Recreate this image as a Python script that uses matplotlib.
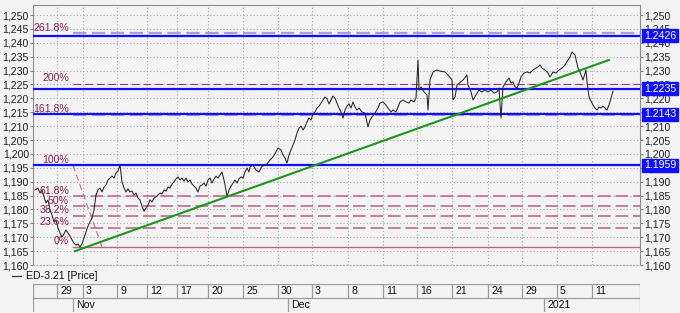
import matplotlib
matplotlib.use("Agg")
import matplotlib.pyplot as plt
from matplotlib.lines import Line2D
import numpy as np

plt.rcParams["font.family"] = ["Liberation Sans", "DejaVu Sans"]
plt.rcParams["font.size"] = 8

# --- data -------------------------------------------------------------------
# bar index (trading-time axis) and close price
BAR = [2, 5, 7, 9, 11, 13, 15, 17, 19, 21, 23, 25, 27, 29, 31, 33, 35, 37, 39, 41,
       43, 45, 47, 49, 51, 53, 55, 57, 59, 61, 63, 65, 67, 69, 71, 73, 75, 77, 79, 81,
       83, 85, 87, 89, 91, 93, 95, 97, 99, 101, 103, 105, 107, 109, 111, 113,
       115, 117, 119, 121, 123, 125, 127, 129, 131, 133, 135, 137, 139, 141, 143, 145,
       147, 149, 151, 153, 155, 157, 159, 161, 163, 165, 167, 169, 171, 173, 175, 177,
       179, 181, 183, 185, 187, 189, 191, 193, 194, 196, 198, 200, 202, 204, 206, 208,
       210, 212, 214, 216,
       217, 220, 223, 226, 229, 233, 237, 240, 243, 245, 248, 250, 252, 254, 256, 258,
       260, 262, 264, 266, 268, 270, 272, 274, 276, 278, 280, 282, 284, 286, 288, 290,
       292, 294, 296, 298, 300, 302, 304, 306, 308, 310, 312, 314, 316, 318, 320, 322,
       324, 326,
       329, 332, 335, 337, 339, 342, 345, 347, 350, 353, 355, 358, 360, 363, 365, 367,
       370, 373, 376, 378, 381, 383, 385, 386, 388, 391, 394, 395, 397, 400, 404, 407,
       412, 415, 419, 420, 422, 424, 430, 434, 435, 438,
       440, 443, 446, 449, 452, 455, 458, 461, 464, 466, 468, 470, 473, 476, 478, 480,
       482, 484, 486, 488, 491, 494, 497, 500, 503, 505, 507, 509, 512, 515, 517, 520,
       523, 526, 529, 532, 535,
       537, 539, 542, 545, 547, 550, 553, 554, 556, 558, 560, 562, 564, 566, 568, 570,
       572, 574, 576, 578, 580]
CLOSE = [1.1870, 1.1877, 1.1859, 1.1870, 1.1845, 1.1823, 1.1834, 1.1798, 1.1780, 1.1755,
         1.1762, 1.1733, 1.1715, 1.1701, 1.1712, 1.1726, 1.1715, 1.1704, 1.1690, 1.1679,
         1.1672, 1.1676, 1.1665, 1.1676, 1.1697, 1.1719, 1.1740, 1.1755, 1.1769, 1.1798,
         1.1852, 1.1870, 1.1877, 1.1863, 1.1881, 1.1888, 1.1906, 1.1913, 1.1920, 1.1913,
         1.1931, 1.1938, 1.1959, 1.1899, 1.1877, 1.1863, 1.1874, 1.1863, 1.1866, 1.1852,
         1.1859, 1.1841, 1.1834, 1.1812, 1.1794, 1.1805,
         1.1816, 1.1834, 1.1827, 1.1841, 1.1845, 1.1852, 1.1859, 1.1856, 1.1870, 1.1866,
         1.1881, 1.1877, 1.1892, 1.1899, 1.1910, 1.1917, 1.1906, 1.1913, 1.1902, 1.1913,
         1.1899, 1.1906, 1.1892, 1.1884, 1.1877, 1.1863, 1.1884, 1.1888, 1.1895, 1.1884,
         1.1906, 1.1913, 1.1895, 1.1910, 1.1920, 1.1913, 1.1924, 1.1935, 1.1906, 1.1870,
         1.1845, 1.1870, 1.1884, 1.1895, 1.1906, 1.1895, 1.1910, 1.1917, 1.1913, 1.1935,
         1.1949, 1.1935,
         1.1953, 1.1960, 1.1942, 1.1935, 1.1956, 1.1960, 1.1978, 1.1989, 1.2007, 1.2021,
         1.2014, 1.1996, 1.1985, 1.1967, 1.1996, 1.2014, 1.2032, 1.2050, 1.2075, 1.2093,
         1.2100, 1.2086, 1.2097, 1.2115, 1.2129, 1.2122, 1.2144, 1.2151, 1.2165, 1.2172,
         1.2183, 1.2194, 1.2205, 1.2198, 1.2180, 1.2194, 1.2208, 1.2201, 1.2183, 1.2165,
         1.2151, 1.2129, 1.2158, 1.2172, 1.2180, 1.2165, 1.2187, 1.2169, 1.2158, 1.2165,
         1.2151, 1.2147, 1.2097, 1.2122, 1.2133, 1.2147, 1.2165, 1.2183, 1.2187, 1.2176,
         1.2165, 1.2151, 1.2158, 1.2151, 1.2169, 1.2187, 1.2194, 1.2187, 1.2183, 1.2194,
         1.2187, 1.2201, 1.2338, 1.2230, 1.2241, 1.2223, 1.2212, 1.2158, 1.2266, 1.2295,
         1.2302, 1.2298, 1.2295, 1.2284, 1.2266, 1.2194, 1.2205, 1.2248, 1.2266, 1.2284,
         1.2248, 1.2223,
         1.2194, 1.2212, 1.2230, 1.2223, 1.2230, 1.2223, 1.2230, 1.2219, 1.2223, 1.2237,
         1.2129, 1.2241, 1.2259, 1.2273, 1.2255, 1.2259, 1.2241, 1.2237, 1.2255, 1.2277,
         1.2291, 1.2295, 1.2291, 1.2302, 1.2309, 1.2313, 1.2320, 1.2309, 1.2302, 1.2291,
         1.2277, 1.2295, 1.2291, 1.2302, 1.2309, 1.2320, 1.2338,
         1.2349, 1.2367, 1.2356, 1.2309, 1.2295, 1.2266, 1.2302, 1.2259, 1.2205, 1.2190,
         1.2176, 1.2165, 1.2158, 1.2169, 1.2165, 1.2172, 1.2165, 1.2158, 1.2176, 1.2201,
         1.2226]

# green trend line
TREND_X = [42, 576]
TREND_Y = [1.1650, 1.2338]

# fibonacci tool anchors (high, low) and ratios
FIB_X = [40, 69]
FIB_HIGH = 1.1959
FIB_LOW = 1.1665
FIB_RATIOS = [2.618, 2.0, 1.618, 1.0, 0.618, 0.5, 0.382, 0.236, 0.0]
FIB_LABELS = ["261.8%", "200%", "161.8%", "100%", "61.8%", "50%", "38.2%", "23.6%", "0%"]

# horizontal levels
LEVELS = [1.2426, 1.2235, 1.2143, 1.1959]

# date axis
DAY_POS = [24, 50, 84, 114, 144, 175, 210, 245, 279, 315, 350, 384, 419, 455, 489, 524, 559]
DAY_LABELS = ["29", "3", "9", "12", "17", "20", "25", "30", "3", "8", "11", "16", "21",
              "24", "29", "5", "11"]
MONTH_POS = [40, 255, 511]
MONTH_LABELS = ["Nov", "Dec", "2021"]

X_MAX = 607
Y_MIN, Y_MAX = 1.160, 1.2536

BG = "#f3f3f3"
GRID = "#a8a8a8"
BLUE = "#1010ff"
FIB_COL = "#c27d9d"
FIB_TXT = "#8e1f52"
GREEN = "#1c961c"
FS = 7.6

# --- figure -------------------------------------------------------------------
fig = plt.figure(figsize=(6.8, 3.13), dpi=100, facecolor=BG)
W, H = 680.0, 313.0
ax = fig.add_axes([33 / W, 48 / H, 607 / W, 260 / H], facecolor=BG)
ax.set_xlim(0, X_MAX)
ax.set_ylim(Y_MIN, Y_MAX)

yt = np.arange(1.160, 1.2501, 0.005)
ax.set_yticks(yt)
ax.set_yticklabels([f"{v:.3f}".replace(".", ",") for v in yt])
ax.set_xticks(DAY_POS)
ax.set_xticklabels([])
ax.tick_params(axis="y", left=True, right=True, labelleft=True, labelright=True,
               length=2, color="#808080", labelcolor="#222222", pad=1, labelsize=FS)
ax.tick_params(axis="x", length=0)
ax.grid(True, color=GRID, linestyle=(0, (1, 2)), linewidth=0.8)
for s in ["left", "right", "top"]:
    ax.spines[s].set_color("#8a8a8a")
    ax.spines[s].set_linewidth(0.8)
ax.spines["bottom"].set_color(GRID)
ax.spines["bottom"].set_linestyle((0, (1, 2)))

# fibonacci lines
rng = FIB_HIGH - FIB_LOW
for r, lab in zip(FIB_RATIOS, FIB_LABELS):
    v = FIB_LOW + r * rng
    if r == 0.0:
        ax.plot([FIB_X[0], X_MAX], [v, v], color="#b8668a", lw=1.0, zorder=2)
    elif r == 2.0:
        ax.plot([FIB_X[0], X_MAX], [v, v], color="#9a3c64", lw=0.8,
                dashes=(7, 3.5), zorder=2)
    elif r in (2.618, 1.618):
        ax.plot([FIB_X[0], X_MAX], [v, v], color="#b496e6", lw=1.6,
                dashes=(6, 2.5), zorder=2)
    elif r != 1.0:
        ax.plot([FIB_X[0], X_MAX], [v, v], color=FIB_COL, lw=1.4,
                dashes=(6.5, 2.5), zorder=2)
    ax.text(36, v + 0.0002, lab, color=FIB_TXT, ha="right", va="bottom",
            fontsize=FS, zorder=5)
ax.plot(FIB_X, [FIB_HIGH, FIB_LOW], color=FIB_COL, lw=0.9, dashes=(5, 3), zorder=2)

# blue levels
for v in LEVELS:
    ax.axhline(v, color=BLUE, lw=1.6, zorder=3)
    ax.annotate(f"{v:.4f}", xy=(1, v), xycoords=ax.get_yaxis_transform(),
                xytext=(4, 0), textcoords="offset pixels", ha="left", va="center",
                color="white", fontsize=FS, annotation_clip=False, zorder=6,
                bbox=dict(boxstyle="square,pad=0.15", fc=BLUE, ec=BLUE))

# price and trend
ax.plot(BAR, CLOSE, color="#262626", lw=0.75, zorder=4)
ax.plot(TREND_X, TREND_Y, color=GREEN, lw=1.5, zorder=4)

# legend entry
ly = 1 - 276 / H
fig.add_artist(Line2D([12 / W, 21 / W], [ly, ly], color="#333333", lw=0.9))
fig.text(26 / W, ly, "ED-3.21 [Price]", va="center", ha="left", fontsize=FS,
         color="#111111")

# date strip
ax2 = fig.add_axes([33 / W, 1 / H, 607 / W, 28 / H], facecolor=BG)
ax2.set_xlim(0, X_MAX)
ax2.set_ylim(0, 2)
ax2.axis("off")
edge = "#9c9c9c"
ax2.hlines([2, 1], 0, X_MAX, color=edge, lw=0.9)
ax2.vlines([0, X_MAX], 0, 2, color=edge, lw=0.9)
ax2.vlines(DAY_POS, 1, 2, color=edge, lw=0.9)
ax2.vlines(MONTH_POS, 0, 1, color=edge, lw=0.9)
for p, lab in zip(DAY_POS, DAY_LABELS):
    ax2.text(p + 3, 1.5, lab, ha="left", va="center", fontsize=FS, color="#111111")
for p, lab in zip(MONTH_POS, MONTH_LABELS):
    ax2.text(p + 3, 0.5, lab, ha="left", va="center", fontsize=FS, color="#111111")

fig.savefig("out.png", dpi=100, facecolor=BG)
